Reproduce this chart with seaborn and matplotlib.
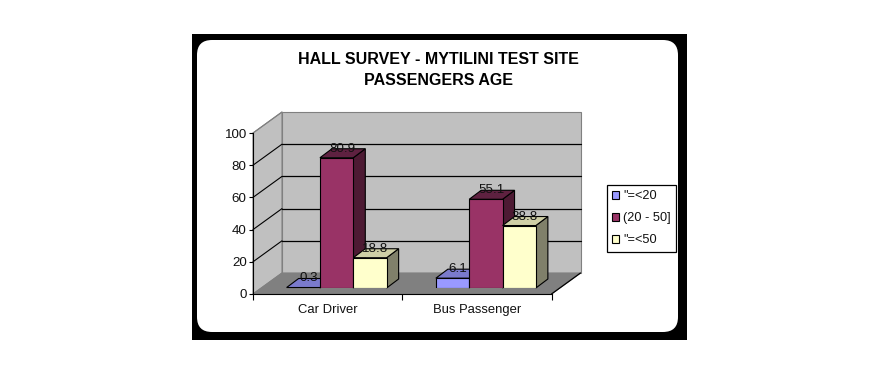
import matplotlib
matplotlib.use("Agg")
import matplotlib.pyplot as plt
from matplotlib.patches import Polygon, Rectangle, FancyBboxPatch
from matplotlib.transforms import IdentityTransform
import pandas as pd
import seaborn as sns

categories = ["Car Driver", "Bus Passenger"]
age_groups = ['"=<20', "(20 - 50]", '"=<50']
under_20 = [0.3, 6.1]
from_20_to_50 = [80.9, 55.1]
over_50 = [18.8, 38.8]
value_labels = [["0.3", "6.1"], ["80.9", "55.1"], ["18.8", "38.8"]]
y_ticks = [0, 20, 40, 60, 80, 100]
title = "HALL SURVEY - MYTILINI TEST SITE\nPASSENGERS AGE"

front_colors = ["#9999FF", "#993366", "#FFFFCC"]
top_colors = ["#7A7ACC", "#5E2140", "#CFCFA6"]
side_colors = ["#5C5C99", "#4D1A33", "#80806A"]

W, H = 880, 375
sns.set_theme(style="white")
plt.rcParams["font.family"] = ["Liberation Sans", "DejaVu Sans"]
fig = plt.figure(figsize=(W / 100, H / 100), dpi=100, facecolor="white")
ident = IdentityTransform()


def px(x, y):
    return (x, H - y)


# Outer frame and rounded panel
fig.add_artist(Rectangle(px(192, 340), 495, 306, transform=ident, fc="black", ec="none", zorder=-5))
fig.add_artist(FancyBboxPatch(px(197, 332), 481, 292, boxstyle="round,pad=0,rounding_size=15",
                              transform=ident, fc="white", ec="none", zorder=-4))

# Front plane: carries the axis lines, ticks and tick labels
ax_front = fig.add_axes([253 / W, (H - 294) / H, 298.5 / W, 161 / H], facecolor="none", zorder=1)
# Bar plane: sits part-way into the depth of the plot box
ax = fig.add_axes([262 / W, (H - 288) / H, 298.5 / W, 161 / H], facecolor="none", zorder=2)

df = pd.DataFrame({
    "category": categories * 3,
    "group": [g for g in age_groups for _ in categories],
    "value": under_20 + from_20_to_50 + over_50,
})
sns.barplot(data=df, x="category", y="value", hue="group", order=categories, hue_order=age_groups,
            palette=front_colors, saturation=1, width=0.67, gap=0, errorbar=None,
            edgecolor="black", linewidth=0.8, ax=ax)

for a in (ax, ax_front):
    a.set_xlim(-0.5, 1.5)
    a.set_ylim(0, 100)
    a.set_xlabel("")
    a.set_ylabel("")
ax.axis("off")
leg = ax.get_legend()
handles, labels = ax.get_legend_handles_labels()
leg.remove()

ax_front.set_yticks(y_ticks)
ax_front.set_xticks([-0.5, 0.5, 1.5])
ax_front.set_xticklabels([])
ax_front.set_xticks([0, 1], labels=categories, minor=True)
ax_front.tick_params(axis="y", left=True, length=3, width=0.8, color="black", labelsize=9.6,
                     pad=1.5, labelcolor="#111111")
ax_front.tick_params(axis="x", which="major", bottom=True, length=4, width=0.8, color="black")
ax_front.tick_params(axis="x", which="minor", bottom=False, length=0, labelsize=9.4, pad=7,
                     labelcolor="#111111")
for s in ("top", "right"):
    ax_front.spines[s].set_visible(False)
for s in ("left", "bottom"):
    ax_front.spines[s].set_color("black")
    ax_front.spines[s].set_linewidth(0.8)

# Plot box walls and floor, derived from the front plane's scales
DEPTH_X, DEPTH_Y = 29, 21
f = ax_front.transData.transform
x0, x1 = -0.5, 1.5


def shifted(x, y, k=1):
    p = f((x, y))
    return (p[0] + k * DEPTH_X, p[1] + k * DEPTH_Y)


def face(pts, fc, ec, z=-2, lw=0.8):
    fig.add_artist(Polygon(pts, closed=True, transform=ident, fc=fc, ec=ec, lw=lw, zorder=z))


face([shifted(x0, 0), shifted(x1, 0), shifted(x1, 100), shifted(x0, 100)], "#C0C0C0", "#808080")
face([f((x0, 0)), shifted(x0, 0), shifted(x0, 100), f((x0, 100))], "#C0C0C0", "#808080")
face([f((x0, 0)), f((x1, 0)), shifted(x1, 0), shifted(x0, 0)], "#808080", "#808080")
for t in y_ticks[1:-1]:
    a, b = shifted(x0, t), shifted(x1, t)
    fig.add_artist(plt.Line2D([a[0], b[0]], [a[1], b[1]], transform=ident, color="black", lw=0.9, zorder=-1))
    c = f((x0, t))
    fig.add_artist(plt.Line2D([c[0], a[0]], [c[1], a[1]], transform=ident, color="black", lw=0.8, zorder=-1))
c, d = f((x1, 0)), shifted(x1, 0)
fig.add_artist(plt.Line2D([c[0], d[0]], [c[1], d[1]], transform=ident, color="black", lw=0.9, zorder=-1))
c, d = f((x0, 100)), shifted(x0, 100)
fig.add_artist(plt.Line2D([c[0], d[0]], [c[1], d[1]], transform=ident, color="#808080", lw=0.8, zorder=-1))

# Bar depth: side and top faces, computed from each drawn bar
BAR_DX, BAR_DY = 12, 9
g = ax.transData.transform
for s_idx, container in enumerate(ax.containers):
    for c_idx, bar in enumerate(container):
        zo = 2 + s_idx * 3
        bar.set_zorder(zo + 2)
        (lx, by) = g((bar.get_x(), 0))
        (rx, ty) = g((bar.get_x() + bar.get_width(), bar.get_height()))
        ax.add_patch(Polygon([(rx, by), (rx + BAR_DX, by + BAR_DY), (rx + BAR_DX, ty + BAR_DY), (rx, ty)],
                             closed=True, transform=ident, fc=side_colors[s_idx], ec="black", lw=0.8,
                             zorder=zo, clip_on=False))
        ax.add_patch(Polygon([(lx, ty), (rx, ty), (rx + BAR_DX, ty + BAR_DY), (lx + BAR_DX, ty + BAR_DY)],
                             closed=True, transform=ident, fc=top_colors[s_idx], ec="black", lw=0.8,
                             zorder=zo + 1, clip_on=False))
        ax.annotate(value_labels[s_idx][c_idx],
                    xy=(bar.get_x() + bar.get_width() / 2, bar.get_height()), xycoords="data",
                    xytext=(4.0, 6.5), textcoords="offset points", ha="center", va="center",
                    fontsize=9.6, color="#111111", zorder=30, annotation_clip=False)

fig.text(438 / W, 1 - 70 / H, title, ha="center", va="center", fontsize=11.5, fontweight="bold",
         color="black", linespacing=1.5)

fig.legend(handles, labels, loc="upper left", bbox_to_anchor=(607 / W, 1 - 185 / H), ncol=1,
           fontsize=9.2, frameon=True, fancybox=False, edgecolor="black", framealpha=1,
           borderpad=0.42, labelspacing=0.78, handlelength=0.55, handleheight=0.6, handletextpad=0.3,
           borderaxespad=0, labelcolor="#111111").get_frame().set_linewidth(0.9)

fig.savefig("out.png", dpi=100, facecolor="white")
